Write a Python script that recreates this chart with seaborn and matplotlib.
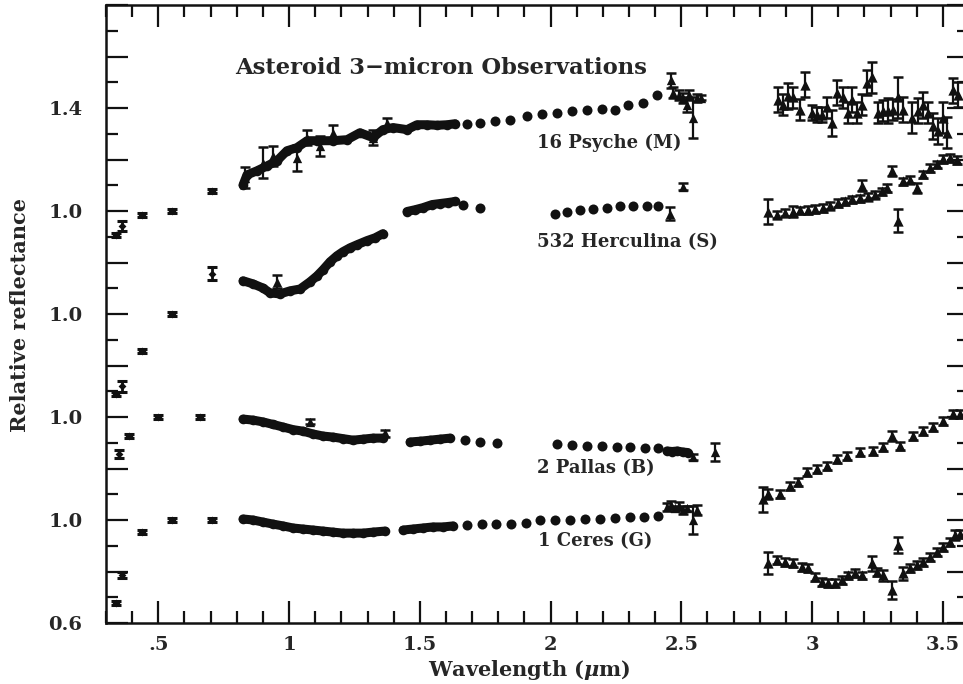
import matplotlib
matplotlib.use("Agg")
import matplotlib.pyplot as plt
import seaborn as sns
import pandas as pd
import numpy as np
from matplotlib.ticker import FixedLocator, MultipleLocator

# ---------------- data (relative reflectance, un-offset) ----------------
names = ["1 Ceres (G)", "2 Pallas (B)", "532 Herculina (S)", "16 Psyche (M)"]
offsets = [0.0, 0.4, 0.8, 1.2]

# --- 1 Ceres ---
ceres_vis_wl = [0.338, 0.361, 0.438, 0.552, 0.705]
ceres_vis_r = [0.676, 0.786, 0.953, 1.0, 1.0]
ceres_vis_err = [0.008, 0.012, 0.008, 0.008, 0.008]
ceres_d1_wl = [0.824, 0.862, 0.900, 0.939, 0.977, 1.015, 1.053, 1.092, 1.130, 1.168, 1.206, 1.245, 1.283, 1.321, 1.367]
ceres_d1_r = [1.004, 1.0, 0.992, 0.984, 0.977, 0.969, 0.965, 0.961, 0.957, 0.953, 0.949, 0.949, 0.949, 0.953, 0.957]
ceres_d2_wl = [1.436, 1.474, 1.512, 1.550, 1.589, 1.627]
ceres_d2_r = [0.961, 0.965, 0.969, 0.973, 0.973, 0.977]
ceres_dot_wl = [1.680, 1.738, 1.791, 1.849, 1.906, 1.960, 2.017, 2.074, 2.132, 2.189, 2.246, 2.304, 2.357, 2.411]
ceres_dot_r = [0.981, 0.983, 0.984, 0.984, 0.990, 1.0, 1.0, 1.0, 1.003, 1.005, 1.007, 1.010, 1.013, 1.016]
ceres_end_wl = [2.445, 2.46, 2.475, 2.49, 2.505, 2.52, 2.545, 2.56]
ceres_end_r = [1.05, 1.06, 1.045, 1.055, 1.04, 1.045, 1.0, 1.04]
ceres_end_err = [0.015, 0.015, 0.01, 0.015, 0.015, 0.01, 0.055, 0.02]
ceres_ir3_wl = [2.832, 2.866, 2.897, 2.927, 2.962, 2.985, 3.011, 3.038, 3.061, 3.088, 3.114, 3.138, 3.164, 3.191,
                3.229, 3.248, 3.271, 3.306, 3.329, 3.348, 3.375, 3.401, 3.424, 3.451, 3.478, 3.501, 3.528, 3.547, 3.566]
ceres_ir3_r = [0.832, 0.844, 0.836, 0.832, 0.817, 0.813, 0.778, 0.758, 0.754, 0.754, 0.766, 0.785, 0.793, 0.785,
               0.832, 0.797, 0.785, 0.727, 0.903, 0.793, 0.813, 0.825, 0.836, 0.855, 0.875, 0.894, 0.914, 0.942, 0.946]
ceres_ir3_err = [0.043, 0.015, 0.015, 0.015, 0.015, 0.015, 0.015, 0.015, 0.015, 0.015, 0.015, 0.015, 0.015, 0.015,
                 0.03, 0.015, 0.02, 0.035, 0.03, 0.025, 0.015, 0.015, 0.015, 0.015, 0.015, 0.015, 0.015, 0.02, 0.015]

# --- 2 Pallas ---
pallas_vis_wl = [0.350, 0.388, 0.499, 0.659]
pallas_vis_r = [0.856, 0.926, 1.0, 1.0]
pallas_vis_err = [0.015, 0.008, 0.008, 0.008]
pallas_d1_wl = [0.824, 0.862, 0.900, 0.939, 0.977, 1.015, 1.053, 1.092, 1.130, 1.168, 1.206, 1.245, 1.283, 1.321, 1.359]
pallas_d1_r = [0.992, 0.988, 0.981, 0.971, 0.961, 0.951, 0.945, 0.934, 0.926, 0.922, 0.916, 0.910, 0.914, 0.918, 0.918]
pallas_d2_wl = [1.463, 1.501, 1.539, 1.577, 1.616]
pallas_d2_r = [0.903, 0.906, 0.910, 0.914, 0.918]
pallas_d3_wl = [2.445, 2.465, 2.485, 2.505, 2.525]
pallas_d3_r = [0.868, 0.866, 0.868, 0.864, 0.862]
pallas_dot_wl = [1.673, 1.730, 1.795, 2.025, 2.082, 2.139, 2.197, 2.254, 2.304, 2.361, 2.411]
pallas_dot_r = [0.910, 0.903, 0.899, 0.895, 0.891, 0.887, 0.887, 0.885, 0.883, 0.879, 0.879]
pallas_end_wl = [1.080, 1.367, 2.545, 2.629]
pallas_end_r = [0.981, 0.936, 0.844, 0.864]
pallas_end_err = [0.01, 0.015, 0.012, 0.035]
pallas_ir3_wl = [2.812, 2.832, 2.877, 2.916, 2.946, 2.981, 3.019, 3.057, 3.095, 3.134, 3.183, 3.233, 3.271, 3.306,
                 3.336, 3.386, 3.424, 3.463, 3.501, 3.539, 3.566]
pallas_ir3_r = [0.680, 0.700, 0.700, 0.731, 0.747, 0.786, 0.797, 0.809, 0.836, 0.848, 0.864, 0.867, 0.883, 0.926,
                0.887, 0.926, 0.945, 0.961, 0.984, 1.012, 1.012]
pallas_ir3_err = [0.047, 0.02, 0.015, 0.015, 0.015, 0.015, 0.015, 0.015, 0.015, 0.015, 0.015, 0.015, 0.015, 0.02,
                  0.015, 0.015, 0.015, 0.015, 0.015, 0.015, 0.015]

# --- 532 Herculina ---
herc_vis_wl = [0.338, 0.361, 0.438, 0.552, 0.705]
herc_vis_r = [0.688, 0.719, 0.856, 1.0, 1.156]
herc_vis_err = [0.008, 0.02, 0.008, 0.008, 0.025]
herc_d1_wl = [0.824, 0.862, 0.900, 0.927, 0.965, 1.004, 1.042, 1.080, 1.107, 1.130, 1.157, 1.183, 1.206, 1.233,
              1.260, 1.298, 1.329, 1.359]
herc_d1_r = [1.129, 1.117, 1.101, 1.082, 1.078, 1.090, 1.097, 1.125, 1.148, 1.172, 1.203, 1.226, 1.242, 1.257,
             1.269, 1.285, 1.296, 1.312]
herc_d2_wl = [1.451, 1.482, 1.512, 1.547, 1.577, 1.608, 1.635]
herc_d2_r = [1.398, 1.405, 1.413, 1.425, 1.429, 1.433, 1.437]
herc_dot_wl = [1.665, 1.730, 2.017, 2.063, 2.113, 2.162, 2.216, 2.266, 2.315, 2.369, 2.411]
herc_dot_r = [1.425, 1.41, 1.39, 1.398, 1.402, 1.409, 1.413, 1.421, 1.421, 1.421, 1.421]
herc_end_wl = [0.954, 2.456, 2.506]
herc_end_r = [1.125, 1.39, 1.495]
herc_end_err = [0.025, 0.025, 0.015]
herc_ir3_wl = [2.832, 2.866, 2.897, 2.927, 2.954, 2.985, 3.011, 3.042, 3.069, 3.099, 3.126, 3.153, 3.183, 3.191,
               3.214, 3.241, 3.268, 3.287, 3.306, 3.329, 3.348, 3.375, 3.401, 3.424, 3.451, 3.478, 3.501, 3.528, 3.555]
herc_ir3_r = [1.398, 1.386, 1.394, 1.398, 1.402, 1.405, 1.409, 1.413, 1.421, 1.430, 1.437, 1.445, 1.449, 1.499,
              1.456, 1.464, 1.476, 1.488, 1.554, 1.363, 1.515, 1.522, 1.488, 1.542, 1.566, 1.581, 1.601, 1.605, 1.597]
herc_ir3_err = [0.048, 0.015, 0.015, 0.02, 0.015, 0.015, 0.015, 0.015, 0.015, 0.015, 0.015, 0.015, 0.015, 0.02,
                0.015, 0.015, 0.015, 0.015, 0.02, 0.045, 0.015, 0.015, 0.02, 0.015, 0.015, 0.015, 0.015, 0.015, 0.015]

# --- 16 Psyche ---
psyche_vis_wl = [0.338, 0.361, 0.438, 0.552, 0.705]
psyche_vis_r = [0.906, 0.942, 0.984, 1.0, 1.078]
psyche_vis_err = [0.008, 0.02, 0.008, 0.008, 0.008]
psyche_d1_wl = [0.824, 0.839, 0.877, 0.916, 0.954, 0.992, 1.030, 1.069, 1.107, 1.168, 1.222, 1.271, 1.321, 1.359,
                1.398, 1.451, 1.489, 1.528, 1.566, 1.605, 1.635]
psyche_d1_r = [1.101, 1.140, 1.156, 1.175, 1.195, 1.234, 1.246, 1.273, 1.273, 1.273, 1.277, 1.304, 1.285, 1.316,
               1.324, 1.316, 1.335, 1.335, 1.333, 1.335, 1.339]
psyche_dot_wl = [1.681, 1.730, 1.787, 1.845, 1.910, 1.967, 2.025, 2.082, 2.139, 2.197, 2.246, 2.296, 2.353, 2.407]
psyche_dot_r = [1.339, 1.343, 1.351, 1.355, 1.370, 1.378, 1.382, 1.390, 1.394, 1.398, 1.394, 1.413, 1.421, 1.452]
psyche_nirerr_wl = [0.832, 0.900, 0.939, 1.030, 1.069, 1.118, 1.168, 1.321, 1.375]
psyche_nirerr_r = [1.129, 1.187, 1.214, 1.207, 1.285, 1.253, 1.304, 1.285, 1.343]
psyche_nirerr_err = [0.04, 0.06, 0.04, 0.05, 0.03, 0.04, 0.03, 0.03, 0.02]
psyche_end_wl = [2.46, 2.47, 2.49, 2.505, 2.52, 2.53, 2.545, 2.56, 2.575]
psyche_end_r = [1.507, 1.46, 1.45, 1.44, 1.413, 1.45, 1.363, 1.44, 1.44]
psyche_end_err = [0.03, 0.02, 0.02, 0.02, 0.03, 0.02, 0.08, 0.015, 0.01]
psyche_ir3_wl = [2.870, 2.889, 2.908, 2.927, 2.954, 2.973, 3.000, 3.019, 3.038, 3.057, 3.076, 3.095, 3.118, 3.138,
                 3.153, 3.172, 3.191, 3.210, 3.229, 3.252, 3.271, 3.290, 3.310, 3.329, 3.348, 3.382, 3.405, 3.424,
                 3.443, 3.463, 3.482, 3.501, 3.516, 3.539, 3.558]
psyche_ir3_r = [1.433, 1.413, 1.448, 1.441, 1.394, 1.491, 1.382, 1.374, 1.374, 1.402, 1.343, 1.460, 1.441, 1.382,
                1.433, 1.382, 1.413, 1.499, 1.519, 1.382, 1.390, 1.390, 1.394, 1.441, 1.394, 1.363, 1.390, 1.413,
                1.382, 1.331, 1.312, 1.363, 1.304, 1.468, 1.452]
psyche_ir3_err = [0.05, 0.04, 0.05, 0.04, 0.04, 0.05, 0.03, 0.03, 0.03, 0.04, 0.05, 0.05, 0.04, 0.04,
                  0.05, 0.04, 0.04, 0.05, 0.06, 0.04, 0.04, 0.05, 0.04, 0.08, 0.05, 0.06, 0.05, 0.05,
                  0.04, 0.05, 0.05, 0.06, 0.06, 0.05, 0.05]

x_ticks = [0.5, 1.0, 1.5, 2.0, 2.5, 3.0, 3.5]
x_ticklabels = [".5", "1", "1.5", "2", "2.5", "3", "3.5"]
y_label_pos = [0.6, 1.0, 1.4, 1.8, 2.2, 2.6]
y_ticklabels = ["0.6", "1.0", "1.0", "1.0", "1.0", "1.4"]
title_text = "Asteroid 3\u2212micron Observations"
xlabel_text = r"Wavelength ($\mu$m)"
ylabel_text = "Relative reflectance"

# ---------------- assemble tables ----------------
groups = {
    "ceres": dict(vis=(ceres_vis_wl, ceres_vis_r, ceres_vis_err),
                  dense=[(ceres_d1_wl, ceres_d1_r), (ceres_d2_wl, ceres_d2_r)],
                  dots=(ceres_dot_wl, ceres_dot_r),
                  errpts=[(ceres_end_wl, ceres_end_r, ceres_end_err)],
                  ir3=(ceres_ir3_wl, ceres_ir3_r, ceres_ir3_err)),
    "pallas": dict(vis=(pallas_vis_wl, pallas_vis_r, pallas_vis_err),
                   dense=[(pallas_d1_wl, pallas_d1_r), (pallas_d2_wl, pallas_d2_r), (pallas_d3_wl, pallas_d3_r)],
                   dots=(pallas_dot_wl, pallas_dot_r),
                   errpts=[(pallas_end_wl, pallas_end_r, pallas_end_err)],
                   ir3=(pallas_ir3_wl, pallas_ir3_r, pallas_ir3_err)),
    "herc": dict(vis=(herc_vis_wl, herc_vis_r, herc_vis_err),
                 dense=[(herc_d1_wl, herc_d1_r), (herc_d2_wl, herc_d2_r)],
                 dots=(herc_dot_wl, herc_dot_r),
                 errpts=[(herc_end_wl, herc_end_r, herc_end_err)],
                 ir3=(herc_ir3_wl, herc_ir3_r, herc_ir3_err)),
    "psyche": dict(vis=(psyche_vis_wl, psyche_vis_r, psyche_vis_err),
                   dense=[(psyche_d1_wl, psyche_d1_r)],
                   dots=(psyche_dot_wl, psyche_dot_r),
                   errpts=[(psyche_nirerr_wl, psyche_nirerr_r, psyche_nirerr_err),
                           (psyche_end_wl, psyche_end_r, psyche_end_err)],
                   ir3=(psyche_ir3_wl, psyche_ir3_r, psyche_ir3_err)),
}
order = ["ceres", "pallas", "herc", "psyche"]

dense_rows, dot_rows, vis_rows, err_rows, ir3_rows = [], [], [], [], []
seg = 0
for key, off in zip(order, offsets):
    g = groups[key]
    for wl, r in g["dense"]:
        for a, b in zip(wl, r):
            dense_rows.append((key, seg, a, b + off))
        seg += 1
    for a, b in zip(*g["dots"]):
        dot_rows.append((key, a, b + off))
    for a, b, e in zip(*g["vis"]):
        vis_rows.append((key, a, b + off, e))
    for wl, r, er in g["errpts"]:
        for a, b, e in zip(wl, r, er):
            err_rows.append((key, a, b + off, e))
    for a, b, e in zip(*g["ir3"]):
        ir3_rows.append((key, a, b + off, e))

dense = pd.DataFrame(dense_rows, columns=["ast", "seg", "wl", "y"])
dots = pd.DataFrame(dot_rows, columns=["ast", "wl", "y"])
vis = pd.DataFrame(vis_rows, columns=["ast", "wl", "y", "err"])
errp = pd.DataFrame(err_rows, columns=["ast", "wl", "y", "err"])
ir3 = pd.DataFrame(ir3_rows, columns=["ast", "wl", "y", "err"])

# ---------------- plot ----------------
sns.set_style("ticks")
plt.rcParams["font.family"] = ["DejaVu Serif"]
plt.rcParams["font.weight"] = "bold"
plt.rcParams["mathtext.fontset"] = "dejavuserif"
plt.rcParams["mathtext.default"] = "it"

fig = plt.figure(figsize=(9.63, 6.84), dpi=100)
ax = fig.add_axes([106 / 963, 61 / 684, 863 / 963, 618 / 684])
K = "#111111"

# dense near-IR bands
sns.lineplot(data=dense, x="wl", y="y", units="seg", estimator=None, sort=False,
             color=K, lw=6.5, ax=ax, legend=False)
sns.scatterplot(data=dense, x="wl", y="y", color=K, s=48, linewidth=0, ax=ax, legend=False)
# sparse dots
sns.scatterplot(data=dots, x="wl", y="y", color=K, s=52, linewidth=0, ax=ax, legend=False)
# visible points (small bars with caps)
ax.errorbar(vis["wl"], vis["y"], yerr=vis["err"], fmt="none", ecolor=K,
            elinewidth=2.0, capsize=3.5, capthick=2.2)
sns.scatterplot(data=vis, x="wl", y="y", color=K, s=16, marker="D", linewidth=0, ax=ax, legend=False)
# near-IR points with error bars
ax.errorbar(errp["wl"], errp["y"], yerr=errp["err"], fmt="none", ecolor=K,
            elinewidth=1.6, capsize=3.5, capthick=1.8)
sns.scatterplot(data=errp, x="wl", y="y", color=K, s=45, marker="^", linewidth=0, ax=ax, legend=False)
# 3-micron data
ax.errorbar(ir3["wl"], ir3["y"], yerr=ir3["err"], fmt="none", ecolor=K,
            elinewidth=1.6, capsize=3.5, capthick=1.8)
sns.scatterplot(data=ir3, x="wl", y="y", color=K, s=55, marker="^", linewidth=0, ax=ax, legend=False)

ax.set_xlim(0.3, 3.6)
ax.set_ylim(0.6, 3.0)

ax.xaxis.set_major_locator(FixedLocator(x_ticks))
ax.set_xticklabels(x_ticklabels)
ax.xaxis.set_minor_locator(MultipleLocator(0.1))
ymaj = np.round(np.arange(0.6, 3.01, 0.2), 2)
ax.yaxis.set_major_locator(FixedLocator(ymaj))
ax.set_yticklabels([y_ticklabels[y_label_pos.index(v)] if v in y_label_pos else "" for v in ymaj])
ax.yaxis.set_minor_locator(MultipleLocator(0.1))

ax.tick_params(which="both", direction="in", top=True, right=True, color=K)
ax.tick_params(which="major", length=16, width=1.6)
ax.tick_params(which="minor", length=8.5, width=1.6)
ax.tick_params(axis="x", which="major", labelsize=14, pad=9)
ax.tick_params(axis="y", which="major", labelsize=14, pad=17)
for lab in ax.get_xticklabels() + ax.get_yticklabels():
    lab.set_fontweight("bold")
for sp in ax.spines.values():
    sp.set_linewidth(1.8)
    sp.set_color(K)

ax.set_xlabel(xlabel_text, fontsize=15, fontweight="bold")
ax.set_ylabel(ylabel_text, fontsize=15, fontweight="bold")
ax.xaxis.set_label_coords(0.491, -0.056)
ax.yaxis.set_label_coords(-0.088, 0.498)

ax.text(0.793, 2.755, title_text, fontsize=16.3, fontweight="bold", ha="left", va="center")
label_pos = [(1.951, 0.918), (1.948, 1.202), (1.948, 2.08), (1.948, 2.464)]
for nm, (lx, ly) in zip(names, label_pos):
    ax.text(lx, ly, nm, fontsize=13, fontweight="bold", ha="left", va="center")

fig.savefig("out.png", dpi=100)
